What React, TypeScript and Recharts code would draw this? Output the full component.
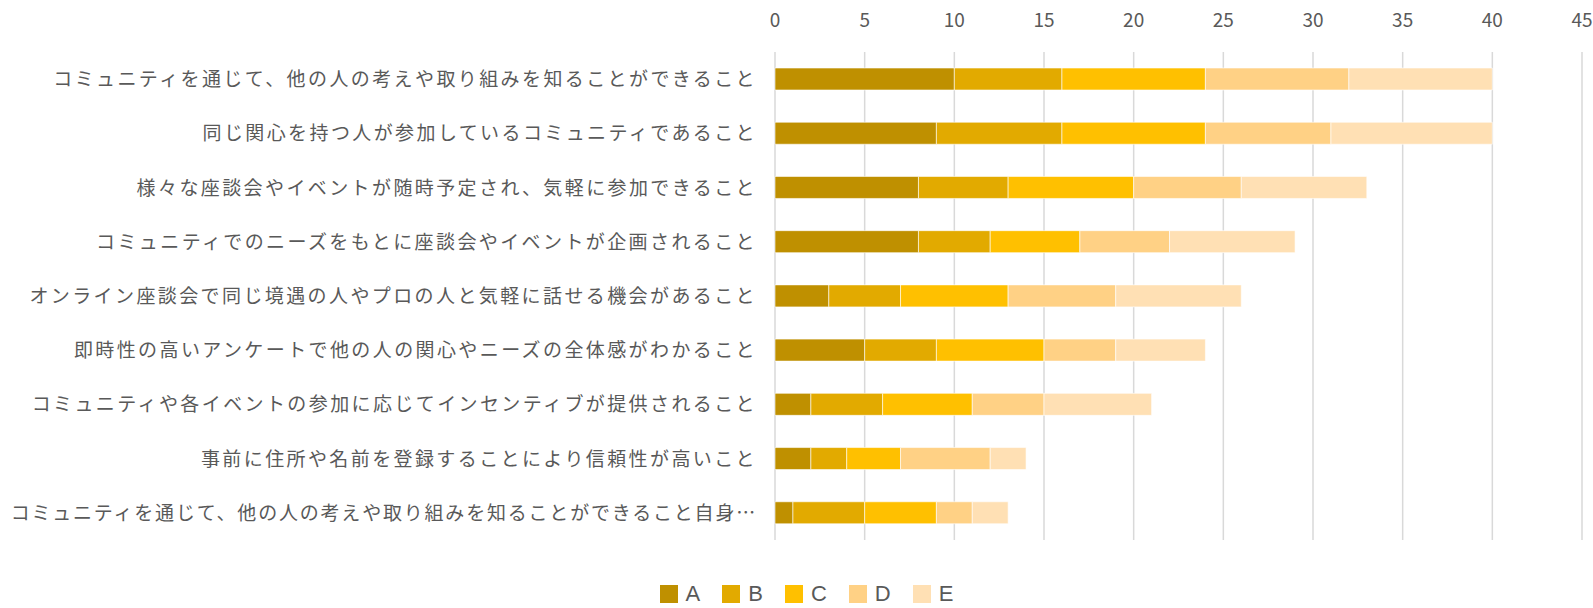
import React from 'react';
import { BarChart, Bar, XAxis, YAxis, CartesianGrid } from 'recharts';

const categories = [
  'コミュニティを通じて、他の人の考えや取り組みを知ることができること',
  '同じ関心を持つ人が参加しているコミュニティであること',
  '様々な座談会やイベントが随時予定され、気軽に参加できること',
  'コミュニティでのニーズをもとに座談会やイベントが企画されること',
  'オンライン座談会で同じ境遇の人やプロの人と気軽に話せる機会があること',
  '即時性の高いアンケートで他の人の関心やニーズの全体感がわかること',
  'コミュニティや各イベントの参加に応じてインセンティブが提供されること',
  '事前に住所や名前を登録することにより信頼性が高いこと',
  'コミュニティを通じて、他の人の考えや取り組みを知ることができること自身…',
];

const seriesA = [10, 9, 8, 8, 3, 5, 2, 2, 1];
const seriesB = [6, 7, 5, 4, 4, 4, 4, 2, 4];
const seriesC = [8, 8, 7, 5, 6, 6, 5, 3, 4];
const seriesD = [8, 7, 6, 5, 6, 4, 4, 5, 2];
const seriesE = [8, 9, 7, 7, 7, 5, 6, 2, 2];

const seriesNames = ['A', 'B', 'C', 'D', 'E'];
const seriesColors = ['#BF9000', '#E2AA00', '#FFC000', '#FFD185', '#FFE0B4'];
const xTicks = [0, 5, 10, 15, 20, 25, 30, 35, 40, 45];

const allSeries = [seriesA, seriesB, seriesC, seriesD, seriesE];
const data = categories.map((name, i) => {
  const row: any = { name };
  seriesNames.forEach((s, k) => {
    row[s] = allSeries[k][i];
  });
  return row;
});

const FONT = '"Noto Sans CJK JP", "Noto Sans", sans-serif';
const LEGEND_FONT = '"Liberation Sans", "Noto Sans", sans-serif';

const YTick = (props: any) => {
  const { x, y, payload } = props;
  const truncated = String(payload.value).endsWith('…');
  return (
    <text
      x={x - 10}
      y={y}
      dy={7}
      textAnchor="end"
      fontSize={19}
      fill="#595959"
      fontFamily={FONT}
      letterSpacing={truncated ? 1.8 : 2.4}
    >
      {payload.value}
    </text>
  );
};

const XTick = (props: any) => {
  const { x, payload } = props;
  return (
    <text x={x} y={27} textAnchor="middle" fontSize={19} fill="#595959" fontFamily={FONT}>
      {payload.value}
    </text>
  );
};

export default function App() {
  return (
    <div style={{ position: 'absolute', left: 0, top: 0, width: 1593, height: 608, background: '#fff', overflow: 'hidden' }}>
      <BarChart
        width={1593}
        height={608}
        data={data}
        layout="vertical"
        margin={{ top: 22, right: 11, bottom: 68, left: 0 }}
        barSize={22}
      >
        <CartesianGrid horizontal={false} stroke="#d9d9d9" strokeWidth={1.5} />
        <XAxis
          type="number"
          orientation="top"
          domain={[0, 45]}
          ticks={xTicks}
          axisLine={false}
          tickLine={false}
          height={30}
          tick={<XTick />}
          interval={0}
        />
        <YAxis
          type="category"
          dataKey="name"
          width={775}
          axisLine={false}
          tickLine={false}
          tick={<YTick />}
          interval={0}
        />
        {seriesNames.map((s, k) => (
          <Bar
            key={s}
            dataKey={s}
            stackId="a"
            fill={seriesColors[k]}
            stroke="#ffffff"
            strokeWidth={0.6}
            isAnimationActive={false}
          />
        ))}
      </BarChart>
      <div
        style={{
          position: 'absolute',
          top: 582,
          left: 0,
          width: 1593,
          boxSizing: 'border-box',
          paddingLeft: 20,
          display: 'flex',
          justifyContent: 'center',
          fontFamily: LEGEND_FONT,
          color: '#595959',
          fontSize: 22,
          lineHeight: '24px',
        }}
      >
        {seriesNames.map((s, k) => (
          <div key={s} style={{ display: 'flex', alignItems: 'center', marginRight: k < 4 ? 22 : 0 }}>
            <span style={{ display: 'inline-block', width: 18, height: 18, background: seriesColors[k], marginRight: 8 }} />
            <span>{s}</span>
          </div>
        ))}
      </div>
    </div>
  );
}
